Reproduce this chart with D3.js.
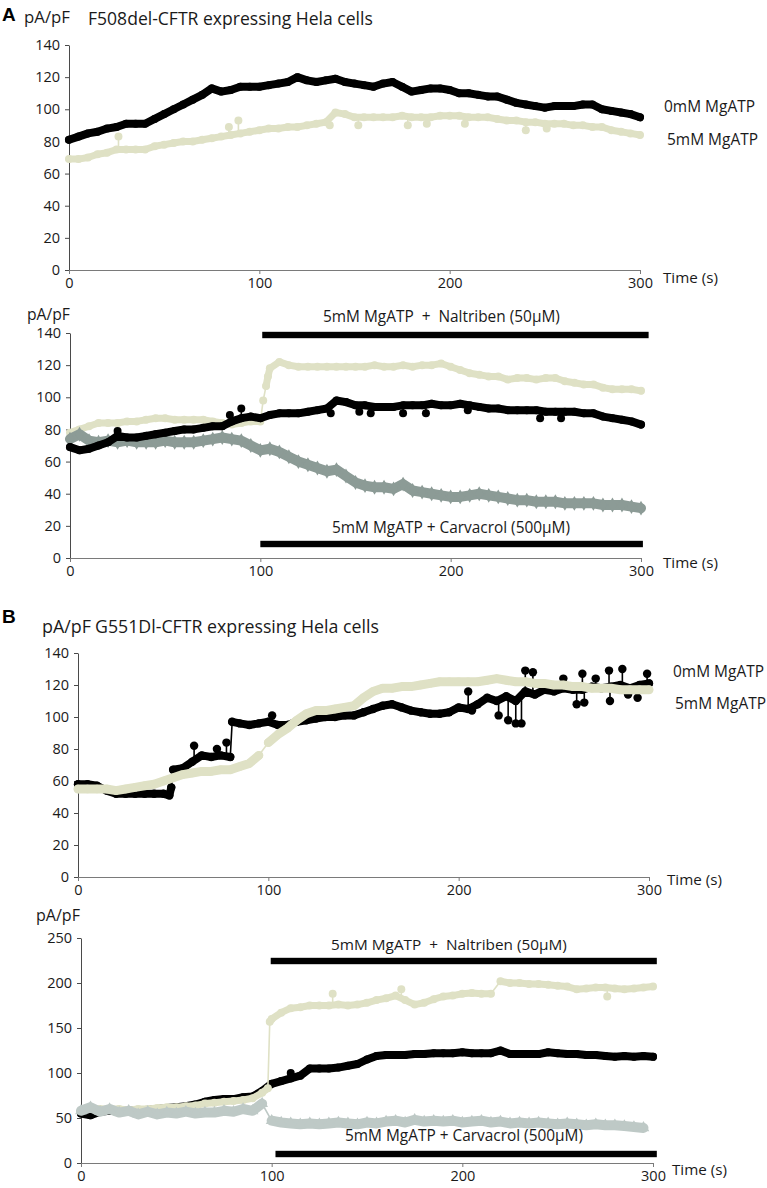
<!DOCTYPE html>
<html><head><meta charset="utf-8">
<script src="https://cdn.jsdelivr.net/npm/d3@7"></script>
<style>
body{margin:0;background:#fff}
svg{display:block;font-family:"Open Sans",Lato,sans-serif}
text{white-space:pre}
</style>
</head><body>
<svg id="c" width="767" height="1188"></svg>
<script>
// ---------- DATA ----------
const timeS = [0,5,10,15,20,25,30,35,40,45,50,55,60,65,70,75,80,85,90,95,
  100,105,110,115,120,125,130,135,140,145,150,155,160,165,170,175,180,185,190,195,
  200,205,210,215,220,225,230,235,240,245,250,255,260,265,270,275,280,285,290,295,300];
const xTicks = [0,100,200,300];
const yTicks140 = [0,20,40,60,80,100,120,140];
const yTicks250 = [0,50,100,150,200,250];

// Panel A top: F508del
const a1Zero = [81,83,85,86,88,89,91,91,91,94, 97,100,103,106,109,113,111,112,114,114,
  114,115,116,117,120,118,117,118,119,117, 116,115,114,116,117,114,111,112,113,113,
  112,110,110,109,108,108,106,104,103,102, 101,102,102,102,103,103,100,99,98,97, 95];
const a1Five = [69,69,70,72,73,75,75,75,75,77, 78,79,80,80,81,82,83,84,85,86,
  87,88,88,89,89,90,91,92,98,97, 95,95,95,95,95,96,95,95,95,96,
  96,96,95,95,95,94,93,93,92,92, 91,91,91,90,90,89,89,87,86,85, 84];
const a1FiveSpikes = [[26,83],[84,89],[89,93],[137,90],[152,90],[178,90],[188,91],[208,91],[240,87],[251,88]];

// Panel A bottom
const a2Five = [78,80,82,84,84,84,85,85,86,87, 87,86,86,86,86,85,84,83,84,85,
  85,118,122,120,119,119,119,119,119,119, 119,119,120,119,119,120,119,120,120,121,
  119,117,115,114,113,113,111,112,112,111, 112,112,110,109,108,108,106,105,105,105, 104];
const a2FiveSteps = [[101.5,98],[103,107],[104,113]];
const a2Zero = [69,67,68,70,72,76,75,75,76,77, 78,79,80,80,81,82,82,85,87,88,
  87,89,90,90,90,91,92,93,98,97, 95,95,94,94,94,95,95,95,96,95,
  95,96,95,94,93,93,92,92,92,92, 91,91,91,91,90,90,88,87,86,85, 83];
const a2ZeroSpikes = [[25,79],[84,89],[90,93],[137,90],[152,91],[158,90],[175,90],[187,90],[209,92],[247,87],[258,87]];
const a2Carv = [74,77,73,72,73,72,73,72,72,72, 73,72,72,72,73,74,75,74,73,70,
  67,68,66,63,60,58,56,54,55,51, 47,45,44,44,43,46,42,41,40,39,
  38,38,39,40,39,38,37,36,36,35, 35,35,34,34,34,34,33,33,33,32, 31];

// Panel B top: G551D
const b1Zero = [58,58,57,54,52,52,52,52,52,52, 67,68,72,76,75,76,75,96,95,96,
  97,95,95,97,98,99,100,100,101,101, 103,105,107,108,106,104,103,102,102,103,
  106,105,108,112,110,113,110,116,114,117, 116,118,117,117,119,118,119,120,118,120, 121];
const b1ZeroSteps = [[48,51],[49,56],[81,97]];
const b1ZeroSpikes = [[61,82],[73,80],[78,84],[102,101],[205,116],[207,104],[221,101],[226,98],[230,96],[233,96],[235,129],[239,128],
  [255,124],[262,108],[265,127],[266,109],[272,124],[279,129],[279.5,110],[286,130],[289,114],[294,112],[299,127]];
const b1Five = [55,55,55,55,54,55,56,57,58,60, 62,64,65,66,66,67,67,69,71,76,
  84,89,93,98,102,104,104,105,106,107, 112,116,118,118,119,119,120,121,122,122,
  122,122,122,123,124,123,122,122,121,121, 120,120,119,119,118,118,118,117,117,117, 117];

// Panel B bottom
const b2Zero = [55,53,57,58,58,58,59,59,60,61, 62,63,65,68,70,71,71,73,74,80,
  88,91,94,97,105,105,105,106,108,110, 115,119,120,120,120,121,121,122,122,122,
  123,122,122,122,125,121,121,121,121,123, 122,121,121,120,120,119,118,119,118,119, 118];
const b2ZeroSpikes = [[110,100]];
const b2Five = [58,60,60,60,60,59,60,60,61,62, 62,63,64,66,67,68,69,70,72,78,
  160,167,172,173,175,175,175,176,175,176, 178,181,183,186,181,176,178,182,185,186,
  188,189,188,188,202,200,200,199,199,198, 197,196,193,194,195,195,194,193,194,195, 196];
const b2FiveSteps = [[98,83],[99,157]];
const b2FiveSpikes = [[132,188],[168,193],[276,185]];
const b2Carv = [58,62,57,60,56,58,54,57,54,56, 55,57,55,56,56,58,57,60,58,66,
  47,45,44,43,44,43,44,45,44,43, 45,44,46,47,45,48,46,47,46,47,
  45,46,47,45,46,44,45,44,45,44, 43,44,43,42,43,42,42,41,40,39];

// Treatment periods (s)
const a2Naltriben = [101, 304];
const a2Carvacrol = [100, 301];
const b2Naltriben = [99.5, 302];
const b2Carvacrol = [102, 302];

const legendLabels = ["0mM MgATP", "5mM MgATP"];
const naltribenLabel = "5mM MgATP  +  Naltriben (50\u00b5M)";
const carvacrolLabel = "5mM MgATP + Carvacrol (500\u00b5M)";

// ---------- STYLE ----------
const BLACK = "#000000", BEIGE = "#dfe1c5", GREEN = "#8c9b96", LGRAY = "#bec9c6";
const svg = d3.select("#c");

// text helper: font size chosen so the text spans the given width
function txt(x, y, s, width, opts = {}) {
  const t = svg.append("text").attr("x", x).attr("y", y).text(s)
    .attr("font-size", 16).attr("fill", opts.fill || "#1a1a1a")
    .attr("font-family", opts.family || null)
    .attr("font-weight", opts.weight || null);
  if (width) {
    const w = t.node().getComputedTextLength();
    let fs = 16 * width / w;
    if (opts.max) fs = Math.min(fs, opts.max);
    t.attr("font-size", fs.toFixed(2));
  } else t.attr("font-size", opts.size || 16);
  return t;
}

function drawSeries(g, x, y, s) {
  const base = [];
  s.v.forEach((v, i) => { if (v != null) base.push([timeS[i], v]); });
  const pts = base.concat(s.steps || []).sort((a, b) => a[0] - b[0]);
  const line = d3.line().x(d => x(d[0])).y(d => y(d[1]));
  const segs = []; let cur = [pts[0]];
  for (let i = 1; i < pts.length; i++) {
    if (Math.abs(y(pts[i][1]) - y(pts[i - 1][1])) > 10) { segs.push(cur); cur = [pts[i]]; }
    else cur.push(pts[i]);
  }
  segs.push(cur);
  segs.forEach(seg => {
    if (seg.length > 1) g.append("path").attr("d", line(seg)).attr("fill", "none")
      .attr("stroke", s.color).attr("stroke-width", s.band)
      .attr("stroke-linejoin", "round").attr("stroke-linecap", "round");
  });
  g.append("path").attr("d", line(pts)).attr("fill", "none")
    .attr("stroke", s.color).attr("stroke-width", 1.6);
  const interp = d3.scaleLinear().domain(pts.map(d => d[0])).range(pts.map(d => d[1]));
  (s.spikes || []).forEach(p => {
    g.append("line").attr("x1", x(p[0])).attr("x2", x(p[0]))
      .attr("y1", y(interp(p[0]))).attr("y2", y(p[1]))
      .attr("stroke", s.color).attr("stroke-width", 1.6);
  });
  const all = pts.concat(s.spikes || []);
  const sym = d3.symbol().type(s.symbol || d3.symbolCircle).size(s.size || 50);
  g.append("g").selectAll("path").data(all).join("path")
    .attr("d", sym)
    .attr("transform", d => `translate(${x(d[0])},${y(d[1])})`)
    .attr("fill", s.color);
}

function panel(cfg) {
  const x = d3.scaleLinear().domain([0, 300]).range([cfg.x0, cfg.x1]);
  const y = d3.scaleLinear().domain([0, cfg.yMax]).range([cfg.y0, cfg.y1]);
  const gy = svg.append("g").attr("transform", `translate(${cfg.x0},0)`)
    .call(d3.axisLeft(y).tickValues(cfg.yTicks).tickSize(4).tickPadding(5).tickSizeOuter(0));
  const gx = svg.append("g").attr("transform", `translate(0,${cfg.y0})`)
    .call(d3.axisBottom(x).tickValues(xTicks).tickSize(4).tickPadding(4).tickSizeOuter(0));
  [gy, gx].forEach(g => {
    g.selectAll("text").attr("font-size", 14.5).attr("fill", "#1a1a1a")
      .attr("font-family", "'Open Sans', Lato, sans-serif");
  });
  gy.select(".domain").attr("stroke", "#4a4a4a");
  gy.selectAll(".tick line").attr("stroke", "#4a4a4a");
  gx.select(".domain").attr("stroke", "#7a7a7a");
  gx.selectAll(".tick line").attr("stroke", "#7a7a7a");
  const g = svg.append("g");
  cfg.series.forEach(s => drawSeries(g, x, y, s));
  (cfg.bars || []).forEach(b => {
    svg.append("rect").attr("x", x(b.span[0])).attr("width", x(b.span[1]) - x(b.span[0]))
      .attr("y", b.yc - 3.2).attr("height", 6.4).attr("fill", "#000");
    txt(b.lx, b.ly, b.label, b.lw);
  });
  return { x, y };
}

// ---------- PANEL A (top) ----------
txt(2, 21, "A", null, { size: 19, weight: "bold", family: "'Liberation Sans', Arial, sans-serif", fill: "#000" });
txt(24, 23, "pA/pF", 46);
txt(88, 25, "F508del-CFTR expressing Hela cells", 285);
panel({
  x0: 69, x1: 640, y0: 270, y1: 45, yMax: 140, yTicks: yTicks140,
  series: [
    { v: a1Five, color: BEIGE, band: 7, spikes: a1FiveSpikes },
    { v: a1Zero, color: BLACK, band: 8 }
  ]
});
txt(664, 112, legendLabels[0], 91);
txt(667, 145, legendLabels[1], 91);
txt(663, 283, "Time (s)", 55);

// ---------- PANEL A (bottom) ----------
txt(27, 320, "pA/pF", 43);
panel({
  x0: 70, x1: 641, y0: 558, y1: 333, yMax: 140, yTicks: yTicks140,
  series: [
    { v: a2Five, color: BEIGE, band: 7, steps: a2FiveSteps },
    { v: a2Carv, color: GREEN, band: 10, symbol: d3.symbolDiamond, size: 64 },
    { v: a2Zero, color: BLACK, band: 8, spikes: a2ZeroSpikes }
  ],
  bars: [
    { span: a2Naltriben, yc: 335, label: naltribenLabel, lx: 323, ly: 322, lw: 237 },
    { span: a2Carvacrol, yc: 544, label: carvacrolLabel, lx: 332, ly: 533, lw: 238 }
  ]
});
txt(663, 568, "Time (s)", 55);

// ---------- PANEL B (top) ----------
txt(2, 623, "B", null, { size: 19, weight: "bold", family: "'Liberation Sans', Arial, sans-serif", fill: "#000" });
txt(42, 633, "pA/pF", 49);
txt(95, 633, "G551Dl-CFTR expressing Hela cells", 284);
panel({
  x0: 78, x1: 649, y0: 877, y1: 653, yMax: 140, yTicks: yTicks140,
  series: [
    { v: b1Zero, color: BLACK, band: 8, steps: b1ZeroSteps, spikes: b1ZeroSpikes, size: 56 },
    { v: b1Five, color: BEIGE, band: 9, size: 56 }
  ]
});
txt(673, 677, legendLabels[0], 91);
txt(675, 709, legendLabels[1], 91);
txt(667, 885, "Time (s)", 55);

// ---------- PANEL B (bottom) ----------
txt(36, 921, "pA/pF", 44);
panel({
  x0: 81, x1: 653, y0: 1163, y1: 938, yMax: 250, yTicks: yTicks250,
  series: [
    { v: b2Zero, color: BLACK, band: 8, spikes: b2ZeroSpikes },
    { v: b2Five, color: BEIGE, band: 7, steps: b2FiveSteps, spikes: b2FiveSpikes },
    { v: b2Carv, color: LGRAY, band: 10, symbol: d3.symbolTriangle, size: 60 }
  ],
  bars: [
    { span: b2Naltriben, yc: 961, label: naltribenLabel, lx: 331, ly: 950, lw: 236 },
    { span: b2Carvacrol, yc: 1154, label: carvacrolLabel, lx: 345, ly: 1141, lw: 238 }
  ]
});
txt(672, 1175, "Time (s)", 55);
</script>
</body></html>
